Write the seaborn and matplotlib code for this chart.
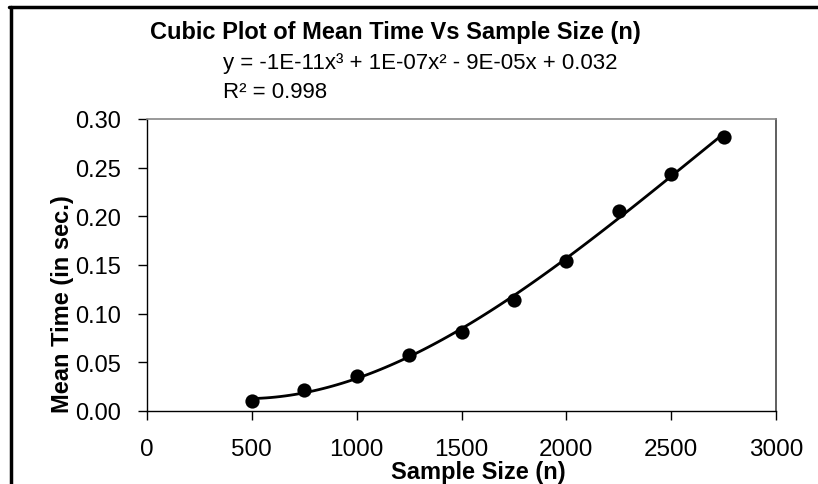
import numpy as np
import pandas as pd
import matplotlib
matplotlib.use("Agg")
import matplotlib.pyplot as plt
from matplotlib.lines import Line2D
import seaborn as sns

# data
sample_size = [500, 750, 1000, 1250, 1500, 1750, 2000, 2250, 2500, 2750]
mean_time = [0.0103, 0.0213, 0.0355, 0.058, 0.0814, 0.1144, 0.154, 0.205, 0.243, 0.282]
x_ticks = [0, 500, 1000, 1500, 2000, 2500, 3000]
y_ticks = [0.00, 0.05, 0.10, 0.15, 0.20, 0.25, 0.30]

title = "Cubic Plot of Mean Time Vs Sample Size (n)"
equation = "y = -1E-11x³ + 1E-07x² - 9E-05x + 0.032"
r_squared = "R² = 0.998"

df = pd.DataFrame({"n": sample_size, "t": mean_time})

sns.set_style("white")
plt.rcParams["font.family"] = ["Liberation Sans", "DejaVu Sans"]
plt.rcParams["text.color"] = "black"
plt.rcParams["xtick.color"] = "black"
plt.rcParams["ytick.color"] = "black"

fig = plt.figure(figsize=(8.18, 4.85), dpi=100)
ax = fig.add_axes([147 / 818, 1 - 412 / 485, (776 - 147) / 818, (412 - 120) / 485])

# cubic trendline + points
sns.regplot(data=df, x="n", y="t", order=3, ci=None, ax=ax,
            scatter_kws={"s": 105, "color": "black", "alpha": 1, "zorder": 3, "linewidths": 0},
            line_kws={"color": "black", "lw": 2})

ax.set_xlim(0, 3000)
ax.set_ylim(0, 0.30)
ax.set_xticks(x_ticks)
ax.set_yticks(y_ticks)
ax.set_yticklabels([f"{v:.2f}" for v in y_ticks])
ax.set_xticklabels([str(v) for v in x_ticks])
ax.tick_params(axis="both", direction="out", length=6.5, width=1, color="black",
               labelsize=17, labelcolor="black", left=True, bottom=True)
ax.tick_params(axis="x", pad=13, labelsize=17.5)
ax.tick_params(axis="y", pad=12)

for side in ["left", "bottom"]:
    ax.spines[side].set_color("black")
    ax.spines[side].set_linewidth(1)
ax.spines["top"].set_color("#888888")
ax.spines["right"].set_color("#444444")
ax.spines["top"].set_linewidth(1.2)
ax.spines["right"].set_linewidth(1.2)

ax.set_xlabel("")
ax.set_ylabel("")

fig.text(150 / 818, 1 - 33 / 485, title, ha="left", va="center",
         fontsize=17, fontweight="bold")
fig.text(223 / 818, 1 - 64 / 485, equation, ha="left", va="center", fontsize=16)
fig.text(223 / 818, 1 - 93 / 485, r_squared, ha="left", va="center", fontsize=16)
fig.text(478 / 818, 1 - 473 / 485, "Sample Size (n)", ha="center", va="center",
         fontsize=17, fontweight="bold")
fig.text(62 / 818, 1 - 304 / 485, "Mean Time (in sec.)", ha="center", va="center",
         rotation=90, fontsize=17, fontweight="bold")

# chart frame (left and top edges)
fig.add_artist(Line2D([10.5 / 818, 10.5 / 818], [0, 1 - 8 / 485], color="black", lw=2.5))
fig.add_artist(Line2D([9 / 818, 1], [1 - 8 / 485, 1 - 8 / 485], color="black", lw=2.5))

fig.savefig("out.png", dpi=100)
